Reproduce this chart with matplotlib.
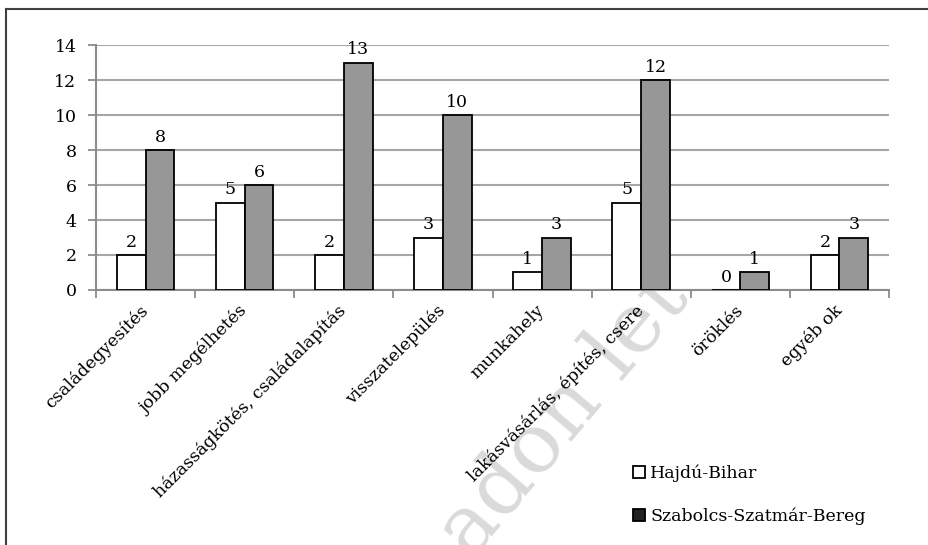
import numpy as np
import matplotlib
matplotlib.use("Agg")
import matplotlib.pyplot as plt
from matplotlib.patches import Patch
from matplotlib.lines import Line2D

plt.rcParams["font.family"] = ["DejaVu Serif"]
plt.rcParams["font.size"] = 12.5

categories = ["családegyesítés", "jobb megélhetés", "házasságkötés, családalapítás",
              "visszatelepülés", "munkahely", "lakásvásárlás, építés, csere",
              "öröklés", "egyéb ok"]
hajdu = [2, 5, 2, 3, 1, 5, 0, 2]
szabolcs = [8, 6, 13, 10, 3, 12, 1, 3]
series_names = ["Hajdú-Bihar", "Szabolcs-Szatmár-Bereg"]

fig = plt.figure(figsize=(9.29, 5.45), dpi=100)
ax = fig.add_axes([0.1033, 0.468, 0.8537, 0.449])
ax.set_facecolor("white")

x = np.arange(len(categories))
w = 0.29
b1 = ax.bar(x - w / 2, hajdu, w, color="white", edgecolor="black", linewidth=1.3, zorder=3)
b2 = ax.bar(x + w / 2, szabolcs, w, color="#979797", edgecolor="black", linewidth=1.3, zorder=3)

for bars, vals in ((b1, hajdu), (b2, szabolcs)):
    for r, v in zip(bars, vals):
        ax.text(r.get_x() + r.get_width() / 2, v + 0.25, str(v),
                ha="center", va="bottom", zorder=4)

ax.set_ylim(0, 14)
ax.set_yticks(range(0, 15, 2))
ax.set_xlim(-0.5, len(categories) - 0.5)
ax.set_xticks(x)
ax.set_xticklabels(categories, rotation=45, ha="right", va="center",
                   rotation_mode="anchor")
ax.set_xticks(np.arange(-0.5, len(categories)), minor=True)
ax.tick_params(axis="x", which="major", length=0, pad=13)
ax.tick_params(axis="x", which="minor", length=6, color="#8c8c8c", width=1.3)
ax.tick_params(axis="y", length=6, color="#8c8c8c", width=1.3, pad=8)
ax.yaxis.grid(True, color="#a6a6a6", linewidth=1.5, zorder=0)
ax.set_axisbelow(True)
for s in ("top", "right"):
    ax.spines[s].set_visible(False)
for s in ("left", "bottom"):
    ax.spines[s].set_color("#8c8c8c")
    ax.spines[s].set_linewidth(1.5)

# faint watermark, hidden behind the plot area like in the original
fig.text(0.507, -0.03, "adon letö", rotation=50, rotation_mode="anchor",
         fontsize=60, color="#dadada", ha="left", va="baseline", zorder=-1)

# frame of the cropped original
fig.add_artist(Line2D([6 / 929, 6 / 929], [0, 1 - 9 / 545], color="#404040", linewidth=1.5))
fig.add_artist(Line2D([6 / 929, 1], [1 - 9 / 545, 1 - 9 / 545], color="#404040", linewidth=1.5))

handles = [Patch(facecolor="white", edgecolor="black", linewidth=1.3),
           Patch(facecolor="#222222", edgecolor="black", linewidth=1.3)]
fig.legend(handles, series_names, loc="upper left", bbox_to_anchor=(0.672, 0.163),
           frameon=False, handlelength=0.7, handleheight=0.7, handletextpad=0.3,
           labelspacing=1.45, borderpad=0)

fig.savefig("out.png", dpi=100)
